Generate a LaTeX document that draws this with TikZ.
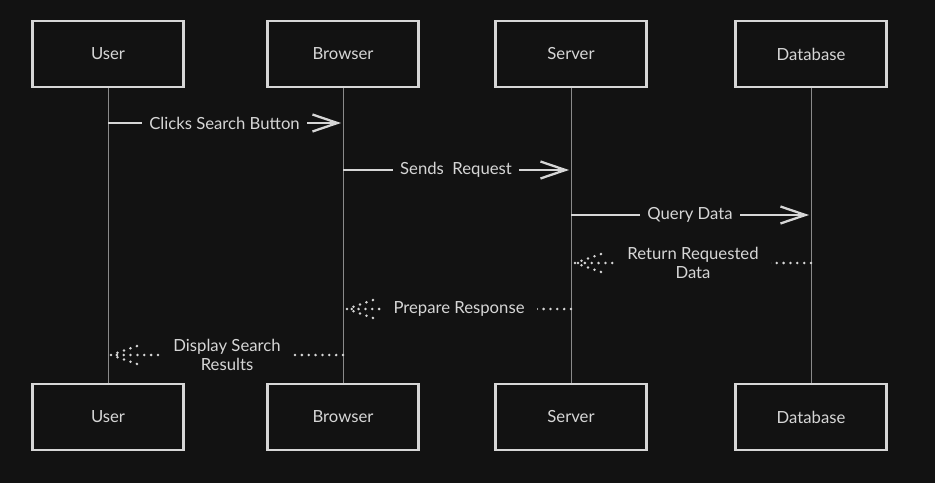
\documentclass[tikz,border=0pt]{standalone}
\usepackage{fontspec}
\setmainfont{Lato}
\usetikzlibrary{arrows.meta}
\definecolor{bg}{HTML}{121212}
\definecolor{ink}{HTML}{D6D6D6}
\definecolor{lifegray}{HTML}{8A8A8A}

\begin{document}
\begin{tikzpicture}[x=0.02cm, y=-0.02cm]
  \tikzstyle{actor}=[rectangle, draw = ink, line width = 1.3pt, fill = bg, text = ink, minimum width = 3.02cm, minimum height = 1.32cm, font = \fontsize{9.5}{11}\selectfont]
  \tikzstyle{life}=[draw = lifegray, line width = 0.5pt]
  \tikzstyle{call}=[draw = ink, line width = 1.3pt, -{Straight Barb[length = 5mm, width = 3.4mm, line width = 1.3pt]}]
  \tikzstyle{reply}=[draw = ink, line width = 1.6pt, line cap = round, dash pattern = on 0pt off 3.9pt]
  \tikzstyle{msg}=[fill = bg, text = ink, inner xsep = 4pt, inner ysep = 2pt, align = center, font = \fontsize{9.5}{11}\selectfont]

  \fill[bg] (0,0) rectangle (935,483);

  % participants
  \node[actor] (u) at (108,54) {User};
  \node[actor] (b) at (343,54) {Browser};
  \node[actor] (s) at (571,54) {Server};
  \node[actor] (d) at (811,54) {Database};

  \node[actor] (u2) at (108,417) {User};
  \node[actor] (b2) at (343,417) {Browser};
  \node[actor] (s2) at (571,417) {Server};
  \node[actor] (d2) at (811,417) {Database};

  \path (u) edge [life] (u2)
        (b) edge [life] (b2)
        (s) edge [life] (s2)
        (d) edge [life] (d2);

  % message ends on the lifelines
  \coordinate (u1) at (108,123);
  \coordinate (b1) at (341,123);
  \coordinate (b3) at (343,170);
  \coordinate (s3) at (569,170);
  \coordinate (s4) at (571,215);
  \coordinate (d4) at (809,215);
  \coordinate (d5) at (811,263);
  \coordinate (s5) at (575,263);
  \coordinate (s6) at (571,309);
  \coordinate (b6) at (347,309);
  \coordinate (b7) at (343,355);
  \coordinate (u7) at (111,355);

  \draw[call] (u1) -- node[msg] {Clicks Search Button} (b1);
  \draw[call] (b3) -- node[msg] {Sends\ \ Request} (s3);
  \draw[call] (s4) -- node[msg] {Query Data} (d4);

  \draw[reply] (d5) -- node[msg, inner xsep = 7pt] {Return Requested\\Data} (s5);
  \draw[reply] (s5) -- ++(26,-9) (s5) -- ++(26,9);
  \draw[reply] (s6) -- node[msg, inner xsep = 7pt] {Prepare Response} (b6);
  \draw[reply] (b6) -- ++(26,-9) (b6) -- ++(26,9);
  \draw[reply] (b7) -- node[msg, inner xsep = 7pt] {Display Search\\Results} (u7);
  \draw[reply] (u7) -- ++(26,-9) (u7) -- ++(26,9);

\end{tikzpicture}
\end{document}
